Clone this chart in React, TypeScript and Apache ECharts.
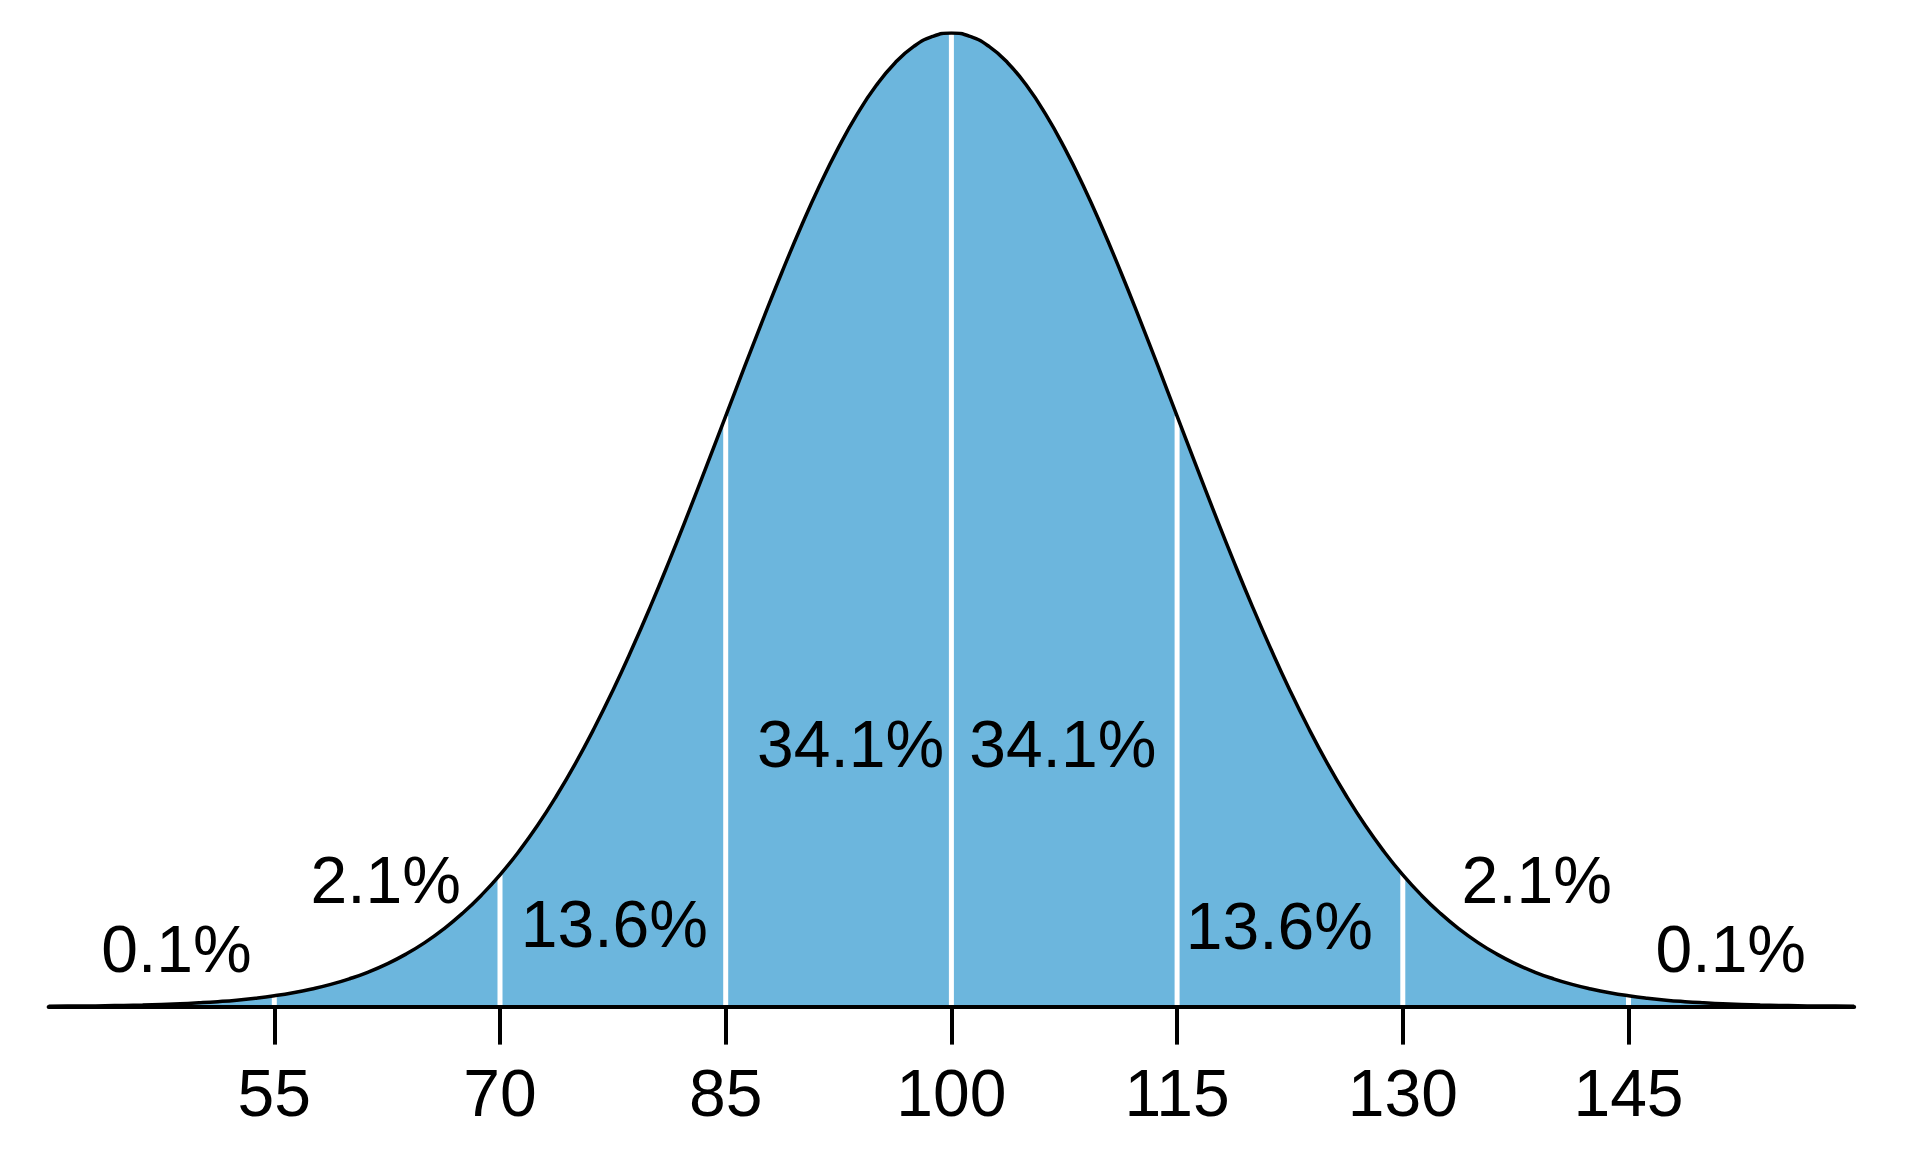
import React, { useEffect, useRef } from "react";
import * as echarts from "echarts";

const iqScores = [
  40, 41.25, 42.5, 43.75, 45, 46.25, 47.5, 48.75, 50, 51.25, 52.5, 53.75, 55, 56.25, 57.5, 58.75, 60,
  61.25, 62.5, 63.75, 65, 66.25, 67.5, 68.75, 70, 71.25, 72.5, 73.75, 75, 76.25, 77.5, 78.75, 80,
  81.25, 82.5, 83.75, 85, 86.25, 87.5, 88.75, 90, 91.25, 92.5, 93.75, 95, 96.25, 97.5, 98.75, 100,
  101.25, 102.5, 103.75, 105, 106.25, 107.5, 108.75, 110, 111.25, 112.5, 113.75, 115, 116.25, 117.5,
  118.75, 120, 121.25, 122.5, 123.75, 125, 126.25, 127.5, 128.75, 130, 131.25, 132.5, 133.75, 135,
  136.25, 137.5, 138.75, 140, 141.25, 142.5, 143.75, 145, 146.25, 147.5, 148.75, 150, 151.25, 152.5,
  153.75, 155, 156.25, 157.5, 158.75, 160,
];
const curveHeights = [
  0.0003, 0.0005, 0.0006, 0.0009, 0.0012, 0.0016, 0.0022, 0.0029, 0.0039, 0.0051, 0.0066, 0.0086,
  0.0111, 0.0142, 0.0181, 0.0228, 0.0286, 0.0355, 0.0439, 0.0539, 0.0657, 0.0796, 0.0957, 0.1142,
  0.1353, 0.1593, 0.1862, 0.2163, 0.2494, 0.2856, 0.3247, 0.3667, 0.4111, 0.4578, 0.5063, 0.5561,
  0.6065, 0.657, 0.7066, 0.7548, 0.8007, 0.8436, 0.8825, 0.9169, 0.946, 0.9692, 0.9862, 0.9965, 1.0,
  0.9965, 0.9862, 0.9692, 0.946, 0.9169, 0.8825, 0.8436, 0.8007, 0.7548, 0.7066, 0.657, 0.6065,
  0.5561, 0.5063, 0.4578, 0.4111, 0.3667, 0.3247, 0.2856, 0.2494, 0.2163, 0.1862, 0.1593, 0.1353,
  0.1142, 0.0957, 0.0796, 0.0657, 0.0539, 0.0439, 0.0355, 0.0286, 0.0228, 0.0181, 0.0142, 0.0111,
  0.0086, 0.0066, 0.0051, 0.0039, 0.0029, 0.0022, 0.0016, 0.0012, 0.0009, 0.0006, 0.0005, 0.0003,
];

// Tick labels / section boundaries
const tickValues = [55, 70, 85, 100, 115, 130, 145];

// Percentage labels and where they sit (in data units)
const pctLabels = ["0.1%", "2.1%", "13.6%", "34.1%", "34.1%", "13.6%", "2.1%", "0.1%"];
const pctX = [48.5, 62.4, 77.6, 93.3, 107.4, 121.8, 138.9, 151.8];
const pctY = [0.059, 0.13, 0.085, 0.27, 0.27, 0.083, 0.13, 0.059];

const FONT = "Liberation Sans, Arial, Helvetica, sans-serif";
const BLUE = "#6cb6dd";

export default function App() {
  const ref = useRef<HTMLDivElement>(null);

  useEffect(() => {
    if (!ref.current) return;
    const chart = echarts.init(ref.current, null, { renderer: "svg" });

    const curve = iqScores.map((x, i) => [x, curveHeights[i]]);
    const heightAt = (v: number) => curveHeights[iqScores.indexOf(v)];

    const boundarySeries = tickValues.map((v) => ({
      type: "line",
      data: [
        [v, 0],
        [v, heightAt(v)],
      ],
      symbol: "none",
      lineStyle: { color: "#ffffff", width: 5 },
      z: 3,
      silent: true,
    }));

    chart.setOption({
      animation: false,
      backgroundColor: "#ffffff",
      grid: { left: 48.6, right: 65.8, top: 33, bottom: 149.4, containLabel: false },
      xAxis: {
        type: "value",
        min: 40,
        max: 160,
        z: 10,
        splitLine: { show: false },
        axisLine: { show: true, lineStyle: { color: "#000", width: 4, cap: "round" } },
        axisTick: {
          show: true,
          inside: false,
          length: 38,
          customValues: tickValues,
          lineStyle: { color: "#000", width: 4 },
        },
        axisLabel: {
          show: true,
          customValues: tickValues,
          margin: 53,
          color: "#000",
          fontSize: 66,
          lineHeight: 66,
          fontFamily: FONT,
        },
      },
      yAxis: { type: "value", min: 0, max: 1, show: false },
      series: [
        {
          type: "line",
          data: curve,
          smooth: true,
          symbol: "none",
          lineStyle: { width: 0 },
          areaStyle: { color: BLUE, opacity: 1 },
          z: 2,
          silent: true,
        },
        ...boundarySeries,
        {
          type: "line",
          data: curve,
          smooth: true,
          symbol: "none",
          lineStyle: { color: "#000", width: 3.5 },
          z: 4,
          silent: true,
        },
        {
          type: "scatter",
          data: pctX.map((x, i) => ({ value: [x, pctY[i]], name: pctLabels[i] })),
          symbolSize: 0,
          itemStyle: { color: "#000", opacity: 1 },
          z: 6,
          silent: true,
          label: {
            show: true,
            position: "inside",
            formatter: (p: any) => p.name,
            color: "#000",
            opacity: 1,
            fontSize: 66,
            fontFamily: FONT,
          },
        },
      ],
    });

    return () => chart.dispose();
  }, []);

  return (
    <div
      ref={ref}
      style={{ position: "fixed", left: 0, top: 0, width: 1920, height: 1156, background: "#fff" }}
    />
  );
}
